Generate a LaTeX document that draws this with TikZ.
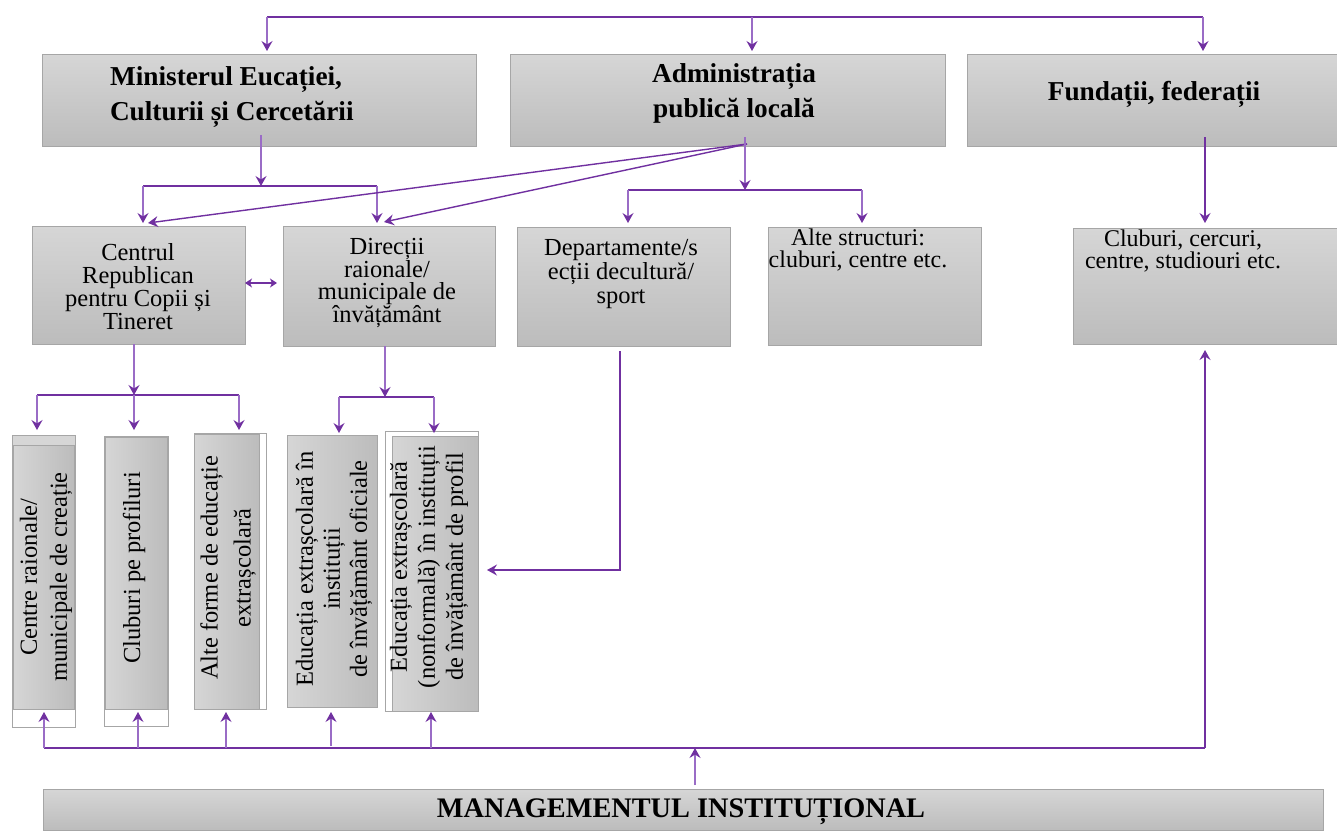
\documentclass[tikz,border=0pt]{standalone}
\usepackage{fontspec}
\setmainfont{Liberation Serif}
\usetikzlibrary{arrows.meta,calc}
\definecolor{lineC}{HTML}{7030A0}
\definecolor{shaftC}{HTML}{9A6CC6}
\definecolor{boxTop}{HTML}{D6D6D6}
\definecolor{boxBot}{HTML}{BCBCBC}
\definecolor{boxBorder}{HTML}{A6A6A6}
\newcommand{\myBold}{\fontsize{27.3}{35}\selectfont\bfseries}
\newcommand{\myMid}[1]{\fontsize{24.5}{#1}\selectfont}
\newcommand{\myRot}[1]{\fontsize{24.5}{#1}\selectfont}
\tikzset{
  box/.style={draw=boxBorder, line width=0.9pt, top color=boxTop, bottom color=boxBot, inner sep=0pt, outer sep=0pt, anchor=north west},
  rbox/.style={draw=boxBorder, line width=0.9pt, left color=boxTop, right color=boxBot, inner sep=0pt, outer sep=0pt, anchor=north west},
  frame/.style={draw=boxBorder, line width=0.9pt, fill=white, inner sep=0pt, outer sep=0pt, anchor=north west},
  txt/.style={inner sep=0pt, outer sep=0pt, align=center},
  rtxt/.style={inner sep=0pt, outer sep=0pt, align=center, rotate=90},
  ln/.style={draw=lineC, line width=1.4pt},
  arr/.style={draw=shaftC, line width=1.1pt, -{Stealth[length=10pt,width=11pt,inset=3.5pt,color=lineC]}},
  harr/.style={draw=lineC, line width=1.4pt, -{Stealth[length=10pt,width=11pt,inset=3.5pt,color=lineC]}},
  dbl/.style={draw=lineC, line width=1.4pt, {Stealth[length=7pt,width=9pt,inset=2pt]}-{Stealth[length=7pt,width=9pt,inset=2pt]}},
}
\begin{document}
\begin{tikzpicture}[x=1pt,y=-1pt]
\useasboundingbox (0,0) rectangle (1337,833);

% ---------- top level boxes
\node[box, minimum width=434pt, minimum height=92pt] (min) at (42,54) {};
\node[box, minimum width=435pt, minimum height=92pt] (adm) at (510,54) {};
\node[box, minimum width=375pt, minimum height=92pt] (fun) at (967,54) {};
\node[txt, align=left, anchor=west, font=\myBold] (minT) at (110,97.5) {Ministerul Eucației,\\Culturii și Cercetării};
\node[txt, font=\myBold] (admT) at (734,93) {Administrația\\publică locală};
\node[txt, font=\myBold, anchor=base] (funT) at (1154,100) {Fundații, federații};

% ---------- second level boxes
\node[box, minimum width=213pt, minimum height=118pt] (cen) at (32,226) {};
\node[box, minimum width=212pt, minimum height=120pt] (dir) at (283,226) {};
\node[box, minimum width=213pt, minimum height=119pt] (dep) at (517,227) {};
\node[box, minimum width=213pt, minimum height=118pt] (alt) at (768,227) {};
\node[box, minimum width=270pt, minimum height=116pt] (clu) at (1073,228) {};
\node[txt, font=\myMid{23}] (cenT) at (138,287) {Centrul\\Republican\\pentru Copii și\\Tineret};
\node[txt, font=\myMid{22}] (dirT) at (387,283) {Direcții\\raionale/\\municipale de\\învățământ};
\node[txt, font=\myMid{24}] (depT) at (621,274) {Departamente/s\\ecții decultură/\\sport};
\node[txt, font=\fontsize{24}{22}\selectfont] (altT) at (858,250) {Alte structuri:\\cluburi, centre etc.};
\node[txt, font=\fontsize{24}{22}\selectfont] (cluT) at (1183,251) {Cluburi, cercuri,\\centre, studiouri etc.};

% ---------- bottom vertical boxes
\node[frame, minimum width=63pt, minimum height=292pt] (fa) at (12,435) {};
\fill[boxTop] (12.5,435.5) rectangle (74.5,445);
\node[rbox, minimum width=61pt, minimum height=264pt] (ba) at (13,445) {};
\node[frame, minimum width=64pt, minimum height=290pt] (fb) at (104,436) {};
\node[rbox, minimum width=62pt, minimum height=272pt] (bb) at (105,437) {};
\node[frame, minimum width=72pt, minimum height=276pt] (fc) at (194,433) {};
\node[rbox, minimum width=65pt, minimum height=275pt] (bc) at (194,434) {};
\node[rbox, minimum width=90pt, minimum height=272pt] (bd) at (287,435) {};
\node[frame, minimum width=93pt, minimum height=280pt] (fe) at (385,431) {};
\node[rbox, minimum width=86pt, minimum height=275pt] (be) at (392,436) {};

\node[rtxt, font=\myRot{30}] (taT) at (46,577) {Centre raionale/\\municipale de creație};
\node[rtxt, font=\myRot{28}] (tbT) at (134,568) {Cluburi pe profiluri};
\node[rtxt, font=\myRot{33}] (tcT) at (228,568) {Alte forme de educație\\extrașcolară};
\node[rtxt, font=\myRot{27}] (tdT) at (334,569) {Educația extrașcolară în\\instituții\\de învățământ oficiale};
\node[rtxt, font=\myRot{28}] (teT) at (429,567) {Educația extrașcolară\\(nonformală) în instituții\\de învățământ de profil};

% ---------- management box
\node[box, minimum width=1280pt, minimum height=41pt] (mg) at (43,789) {};
\node[txt, font=\fontsize{28.3}{30}\selectfont\bfseries, anchor=base] (mgT) at (681,817) {MANAGEMENTUL INSTITUȚIONAL};

% ---------- connectors: top bus
\coordinate (tb1) at (267,17);
\coordinate (tb2) at (752,17);
\coordinate (tb3) at (1203,17);
\draw[ln] (tb1) -- (tb3);
\draw[arr, shorten >=3pt] (tb1) -- (tb1 |- min.north);
\draw[arr, shorten >=3pt] (tb2) -- (tb2 |- adm.north);
\draw[arr, shorten >=3pt] (tb3) -- (tb3 |- fun.north);

% Ministerul -> Centrul, Direcții
\coordinate (mS) at (261,135);
\coordinate (mB) at (261,186);
\coordinate (mL) at (143,186);
\coordinate (mR) at (377,186);
\draw[arr] (mS) -- (mB);
\draw[ln] (mL) -- (mR);
\draw[arr, shorten >=3pt] (mL) -- (mL |- cen.north);
\draw[arr, shorten >=3pt] (mR) -- (mR |- dir.north);

% Administrația -> Centrul, Direcții (diagonal)
\coordinate (aD) at (747,144);
\coordinate (cenIn) at (148,223);
\coordinate (dirIn) at (384,222);
\draw[harr] (aD) -- (cenIn);
\draw[harr] (aD) -- (dirIn);

% Administrația -> Departamente, Alte structuri
\coordinate (aS) at (745,137);
\coordinate (aB) at (745,190);
\coordinate (aL) at (628,190);
\coordinate (aR) at (862,190);
\draw[arr] (aS) -- (aB);
\draw[ln] (aL) -- (aR);
\draw[arr, shorten >=4pt] (aL) -- (aL |- dep.north);
\draw[arr, shorten >=4pt] (aR) -- (aR |- alt.north);

% Fundații -> Cluburi
\coordinate (fS) at (1205,137);
\draw[harr, shorten >=5pt] (fS) -- (fS |- clu.north);

% Centrul <-> Direcții
\coordinate (cd) at (0,283);
\draw[dbl, shorten >=6pt] (cen.east |- cd) -- (dir.west |- cd);

% Centrul -> A, B, C
\coordinate (cS) at (134,344);
\coordinate (cB) at (134,395);
\coordinate (cL) at (37,395);
\coordinate (cR) at (239,395);
\draw[arr] (cS) -- (cB);
\draw[ln] (cL) -- (cR);
\draw[arr, shorten >=5pt] (cL) -- (cL |- fa.north);
\draw[arr, shorten >=6pt] (cB) -- (cB |- fb.north);
\draw[arr, shorten >=3pt] (cR) -- (cR |- fc.north);

% Direcții -> D, E
\coordinate (dS) at (385,346);
\coordinate (dB) at (385,397);
\coordinate (dL) at (339,397);
\coordinate (dR) at (434,397);
\draw[arr] (dS) -- (dB);
\draw[ln] (dL) -- (dR);
\draw[arr, shorten >=2pt] (dL) -- (dL |- bd.north);
\draw[arr, shorten >=-2pt] (dR) -- (dR |- fe.north);

% Departamente -> E
\coordinate (pS) at (620,351);
\coordinate (pC) at (620,570);
\draw[harr, shorten >=9pt] (pS) -- (pC) -- (fe.east |- pC);

% bottom bus
\coordinate (bL) at (44,748);
\coordinate (bR) at (1205,748);
\coordinate (b2) at (138,748);
\coordinate (b3) at (226,748);
\coordinate (b4) at (331,746);
\coordinate (b5) at (431,748);
\coordinate (upY) at (0,712);
\draw[ln] (bL) -- (bR);
\draw[harr, shorten >=6pt] (bR) -- (bR |- clu.south);
\draw[arr] (bL) -- (bL |- upY);
\draw[arr] (b2) -- (b2 |- upY);
\draw[arr] (b3) -- (b3 |- upY);
\draw[arr] (b4) -- (b4 |- upY);
\draw[arr] (b5) -- (b5 |- upY);

% management -> bus
\coordinate (gS) at (695,785);
\draw[arr] (gS) -- (gS |- bL);
\end{tikzpicture}
\end{document}
